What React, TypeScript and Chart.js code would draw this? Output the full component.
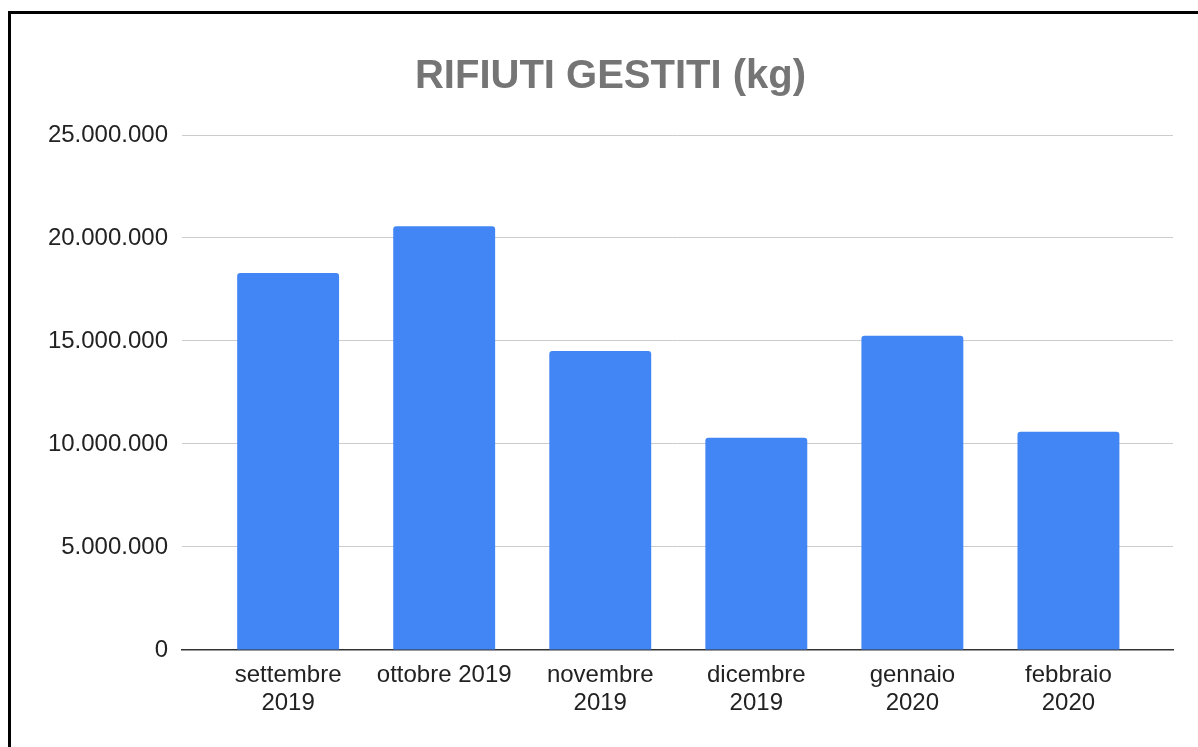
import React, { useEffect, useRef } from "react";
import { Chart, registerables } from "chart.js";

Chart.register(...registerables);

const titleText = "RIFIUTI GESTITI (kg)";
const categories: string[][] = [
  ["settembre", "2019"],
  ["ottobre 2019"],
  ["novembre", "2019"],
  ["dicembre", "2019"],
  ["gennaio", "2020"],
  ["febbraio", "2020"],
];
const values: number[] = [18300000, 20570000, 14510000, 10300000, 15260000, 10600000];
const yMin = 0;
const yMax = 25000000;
const yStep = 5000000;

const FONT = "'Liberation Sans', Arial, Helvetica, sans-serif";

function formatIt(v: number): string {
  return String(Math.round(v)).replace(/\B(?=(\d{3})+(?!\d))/g, ".");
}

export default function App() {
  const ref = useRef<HTMLCanvasElement | null>(null);

  useEffect(() => {
    if (!ref.current) return;
    const chart = new Chart(ref.current, {
      type: "bar",
      data: {
        datasets: [
          {
            data: values.map((v, i) => ({ x: i, y: v })),
            backgroundColor: "#4285F4",
            borderRadius: { topLeft: 3, topRight: 3, bottomLeft: 0, bottomRight: 0 },
            borderSkipped: "bottom",
            categoryPercentage: 0.653,
            barPercentage: 1,
          },
        ],
      },
      options: {
        animation: false,
        responsive: false,
        maintainAspectRatio: false,
        layout: { padding: { left: 37, right: 25, top: 0, bottom: 19 } },
        plugins: {
          legend: { display: false },
          tooltip: { enabled: false },
          title: {
            display: true,
            text: titleText,
            color: "#757575",
            font: { family: FONT, size: 40, weight: "bold", lineHeight: 1.2 },
            padding: { top: 39, bottom: 34 },
          },
        },
        scales: {
          x: {
            type: "linear",
            offset: false,
            min: -0.68,
            max: 5.67,
            grid: { display: false, drawTicks: false },
            border: { display: true, color: "#333333", width: 1.5 },
            afterBuildTicks: (axis: any) => {
              axis.ticks = categories.map((_, i) => ({ value: i }));
            },
            afterFit: (axis: any) => {
              axis.paddingLeft = 0;
              axis.paddingRight = 0;
            },
            ticks: {
              autoSkip: false,
              maxRotation: 0,
              padding: 11,
              color: "#222222",
              font: { family: FONT, size: 24, lineHeight: 1.1667 },
              callback: (value: any) => categories[value as number] ?? "",
            },
          },
          y: {
            min: yMin,
            max: yMax,
            grid: { color: "#cccccc", lineWidth: 1, drawTicks: false },
            border: { display: false },
            afterFit: (axis: any) => {
              axis.width = 134;
            },
            ticks: {
              stepSize: yStep,
              padding: 14,
              color: "#222222",
              font: { family: FONT, size: 24 },
              callback: (value: any) => formatIt(Number(value)),
            },
          },
        },
      },
    });
    return () => chart.destroy();
  }, []);

  return (
    <div
      style={{
        position: "absolute",
        left: 8,
        top: 11,
        width: 1190,
        height: 736,
        boxSizing: "border-box",
        borderTop: "3px solid #000",
        borderLeft: "3px solid #000",
        background: "#fff",
      }}
    >
      <canvas ref={ref} width={1187} height={733} style={{ display: "block" }} />
    </div>
  );
}
